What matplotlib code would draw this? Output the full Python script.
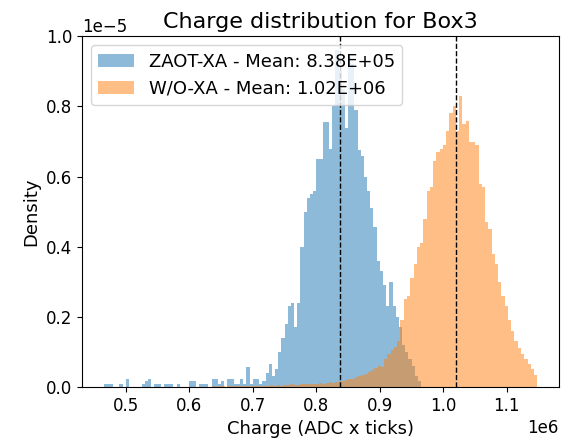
import matplotlib
matplotlib.use("Agg")
import matplotlib.pyplot as plt
import numpy as np

# Histogram data (density, in units of 1e-5)
zaot_range = (0.465e6, 0.965e6)
zaot_density = [
    0.008, 0.008, 0.008, 0, 0, 0.008, 0, 0.024, 0, 0,
    0, 0, 0.008, 0.016, 0.024, 0, 0.008, 0.008, 0, 0.008,
    0.008, 0.008, 0, 0.008, 0, 0, 0, 0.016, 0.016, 0,
    0.008, 0.008, 0.008, 0, 0.024, 0.024, 0.008, 0.016, 0, 0.024,
    0.024, 0.008, 0.008, 0.024, 0.008, 0.057, 0.008, 0.024, 0.024, 0.008,
    0.016, 0.04, 0.066, 0.032, 0.052, 0.10, 0.14, 0.18, 0.23, 0.24,
    0.17, 0.24, 0.40, 0.50, 0.54, 0.55, 0.56, 0.65, 0.65, 0.755,
    0.755, 0.68, 0.80, 0.96, 0.90, 0.85, 0.74, 0.94, 0.92, 0.79,
    0.675, 0.66, 0.60, 0.56, 0.51, 0.455, 0.36, 0.33, 0.29, 0.23,
    0.30, 0.23, 0.20, 0.17, 0.12, 0.10, 0.08, 0.06, 0.03, 0.016,
]
zaot_mean = 8.38e5

wo_range = (0.635e6, 1.148e6)
wo_density = [
    0.002, 0, 0.002, 0.002, 0, 0.002, 0.002, 0.004, 0.002, 0.002,
    0.004, 0.002, 0.004, 0.004, 0.004, 0.002, 0.004, 0.004, 0.006, 0.004,
    0.006, 0.004, 0.006, 0.006, 0.008, 0.006, 0.006, 0.008, 0.008, 0.01,
    0.008, 0.01, 0.01, 0.012, 0.01, 0.012, 0.014, 0.012, 0.015, 0.016,
    0.018, 0.02, 0.022, 0.024, 0.028, 0.03, 0.034, 0.038, 0.042, 0.048,
    0.055, 0.06, 0.058, 0.08, 0.095, 0.105, 0.115, 0.13, 0.19, 0.25,
    0.26, 0.31, 0.35, 0.40, 0.41, 0.48, 0.56, 0.57, 0.645, 0.67,
    0.68, 0.69, 0.73, 0.78, 0.80, 0.73, 0.83, 0.75, 0.76, 0.70,
    0.70, 0.69, 0.58, 0.57, 0.47, 0.45, 0.38, 0.35, 0.30, 0.26,
    0.23, 0.19, 0.16, 0.13, 0.11, 0.095, 0.08, 0.065, 0.05, 0.035,
]
wo_mean = 1.02e6

labels = ["ZAOT-XA", "W/O-XA"]


def plot_hist(ax, value_range, density, label, mean):
    """Draw one density histogram from its bin heights."""
    edges = np.linspace(value_range[0], value_range[1], len(density) + 1)
    heights = np.array(density) * 1e-5
    ax.hist(edges[:-1], bins=edges, weights=heights, alpha=0.5,
            label=f"{label} - Mean: {mean:.2E}")


fig = plt.figure(figsize=(5.69, 4.38), dpi=100)
ax = fig.add_axes([0.144, 0.1164, 0.8384, 0.8006])

plot_hist(ax, zaot_range, zaot_density, labels[0], zaot_mean)
plot_hist(ax, wo_range, wo_density, labels[1], wo_mean)
ax.axvline(zaot_mean, color="black", linestyle="--", linewidth=1)
ax.axvline(wo_mean, color="black", linestyle="--", linewidth=1)

ax.set_ylim(0, 1e-5)
ax.set_title("Charge distribution for Box3", fontsize=16)
ax.set_xlabel("Charge (ADC x ticks)", fontsize=13)
ax.set_ylabel("Density", fontsize=13)
ax.tick_params(labelsize=12)
ax.xaxis.get_offset_text().set_fontsize(12)
ax.yaxis.get_offset_text().set_fontsize(12)
ax.legend(loc="upper left", fontsize=13)

fig.savefig("out.png", dpi=100)
